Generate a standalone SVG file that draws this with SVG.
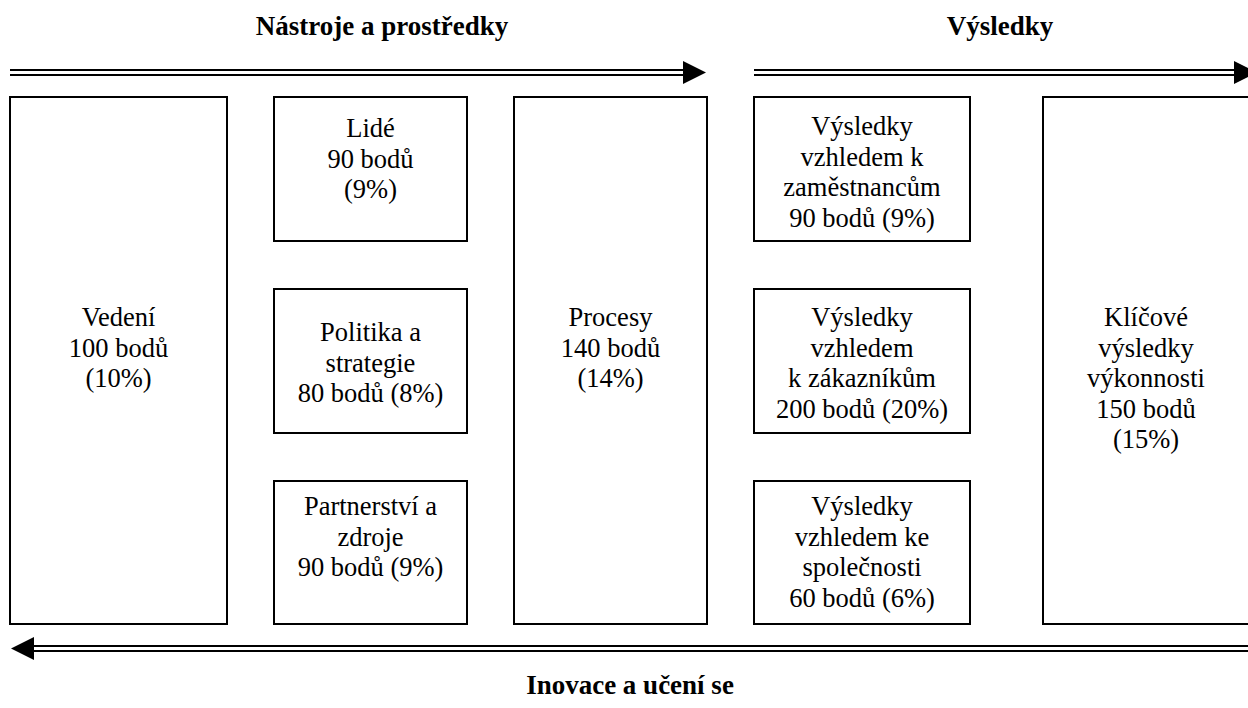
<svg xmlns="http://www.w3.org/2000/svg" width="1248" height="708" viewBox="0 0 1248 708">
  <style>
    .box { fill: #fff; stroke: #000; stroke-width: 2; }
    .rail { stroke: #000; stroke-width: 2; fill: none; }
    .head { fill: #000; }
    .t { font-family: "Liberation Serif", "Times New Roman", serif; font-size: 26.5px; fill: #000; text-anchor: middle; }
    .h { font-family: "Liberation Serif", "Times New Roman", serif; font-size: 27px; font-weight: bold; fill: #000; text-anchor: middle; }
  </style>
  <rect width="1248" height="708" fill="#fff"/>

  <!-- headings -->
  <g id="headings">
    <text class="h" x="382" y="35">Nástroje a prostředky</text>
    <text class="h" x="1000" y="35">Výsledky</text>
    <text class="h" x="630" y="694">Inovace a učení se</text>
  </g>

  <!-- double-line flow arrows -->
  <g id="connectors">
    <line class="rail" x1="10" y1="70" x2="684" y2="70"/>
    <line class="rail" x1="10" y1="75" x2="684" y2="75"/>
    <polygon class="head" points="683,61 706,72.5 683,84"/>

    <line class="rail" x1="754" y1="70" x2="1235" y2="70"/>
    <line class="rail" x1="754" y1="75" x2="1235" y2="75"/>
    <polygon class="head" points="1234,61 1257,72.5 1234,84"/>

    <line class="rail" x1="32" y1="646" x2="1250" y2="646"/>
    <line class="rail" x1="32" y1="651" x2="1250" y2="651"/>
    <polygon class="head" points="34,637 11,648.5 34,660"/>
  </g>

  <g id="vedeni">
    <rect class="box" x="10" y="97" width="217" height="527"/>
    <text class="t" x="118.5" y="326">Vedení</text>
    <text class="t" x="118.5" y="356.5">100 bodů</text>
    <text class="t" x="118.5" y="387">(10%)</text>
  </g>

  <g id="lide">
    <rect class="box" x="274" y="97" width="193" height="144"/>
    <text class="t" x="370.5" y="137">Lidé</text>
    <text class="t" x="370.5" y="167.5">90 bodů</text>
    <text class="t" x="370.5" y="198">(9%)</text>
  </g>

  <g id="politika">
    <rect class="box" x="274" y="289" width="193" height="144"/>
    <text class="t" x="370.5" y="341">Politika a</text>
    <text class="t" x="370.5" y="371.5">strategie</text>
    <text class="t" x="370.5" y="402">80 bodů (8%)</text>
  </g>

  <g id="partnerstvi">
    <rect class="box" x="274" y="481" width="193" height="143"/>
    <text class="t" x="370.5" y="515">Partnerství a</text>
    <text class="t" x="370.5" y="545.5">zdroje</text>
    <text class="t" x="370.5" y="576">90 bodů (9%)</text>
  </g>

  <g id="procesy">
    <rect class="box" x="514" y="97" width="193" height="527"/>
    <text class="t" x="610.5" y="326">Procesy</text>
    <text class="t" x="610.5" y="356.5">140 bodů</text>
    <text class="t" x="610.5" y="387">(14%)</text>
  </g>

  <g id="zamestnanci">
    <rect class="box" x="754" y="97" width="216" height="144"/>
    <text class="t" x="862" y="135">Výsledky</text>
    <text class="t" x="862" y="165.5">vzhledem k</text>
    <text class="t" x="862" y="196">zaměstnancům</text>
    <text class="t" x="862" y="226.5">90 bodů (9%)</text>
  </g>

  <g id="zakaznici">
    <rect class="box" x="754" y="289" width="216" height="144"/>
    <text class="t" x="862" y="326">Výsledky</text>
    <text class="t" x="862" y="356.5">vzhledem</text>
    <text class="t" x="862" y="387">k zákazníkům</text>
    <text class="t" x="862" y="417.5">200 bodů (20%)</text>
  </g>

  <g id="spolecnost">
    <rect class="box" x="754" y="481" width="216" height="143"/>
    <text class="t" x="862" y="515">Výsledky</text>
    <text class="t" x="862" y="545.5">vzhledem ke</text>
    <text class="t" x="862" y="576">společnosti</text>
    <text class="t" x="862" y="606.5">60 bodů (6%)</text>
  </g>

  <g id="klicove">
    <rect class="box" x="1043" y="97" width="210" height="527"/>
    <text class="t" x="1146" y="326">Klíčové</text>
    <text class="t" x="1146" y="356.5">výsledky</text>
    <text class="t" x="1146" y="387">výkonnosti</text>
    <text class="t" x="1146" y="417.5">150 bodů</text>
    <text class="t" x="1146" y="448">(15%)</text>
  </g>
</svg>
